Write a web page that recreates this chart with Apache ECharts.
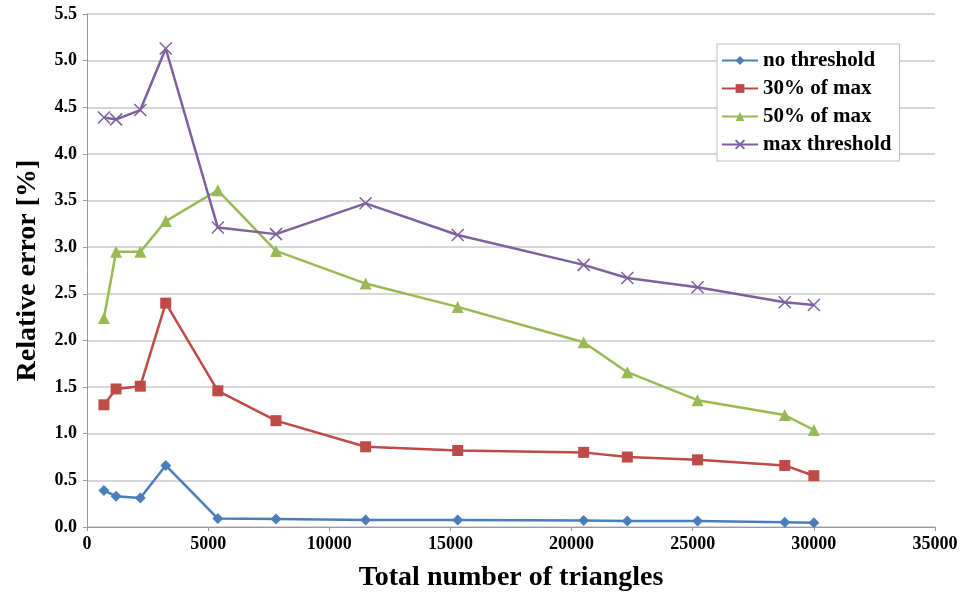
<!DOCTYPE html>
<html>
<head>
<meta charset="utf-8" />
<title>Relative error</title>
<style type="text/css">
	html, body { margin: 0; padding: 0; background: #fff; }
	#chart { width: 960px; height: 592px; }
</style>
<script src="https://cdn.jsdelivr.net/npm/echarts@6/dist/echarts.min.js"></script>
</head>
<body>
<div id="chart"></div>
<script type="text/javascript">
	// number of triangles (x)
	var triangles = [700, 1200, 2200, 3250, 5400, 7800, 11500, 15300, 20500, 22300, 25200, 28800, 30000];
	// relative error [%]
	var noThreshold = [0.39, 0.33, 0.31, 0.66, 0.09, 0.085, 0.075, 0.075, 0.07, 0.065, 0.065, 0.05, 0.045];
	var max30 = [1.31, 1.48, 1.51, 2.40, 1.46, 1.14, 0.86, 0.82, 0.80, 0.75, 0.72, 0.66, 0.55];
	var max50 = [2.24, 2.95, 2.95, 3.28, 3.61, 2.96, 2.61, 2.36, 1.98, 1.66, 1.36, 1.20, 1.04];
	var maxThreshold = [4.39, 4.37, 4.47, 5.13, 3.21, 3.14, 3.47, 3.13, 2.81, 2.67, 2.57, 2.41, 2.38];
	var seriesNames = ['no threshold', '30% of max', '50% of max', 'max threshold'];

	function pairs(ys){
		return triangles.map(function(x, i){ return [x, ys[i]]; });
	}

	var font = '"Liberation Serif", "Times New Roman", serif';
	var crossIcon = 'path://M0,0L10,10M10,0L0,10';

	function line(name, ys, color, symbol, size, extra){
		var s = {
			name: name,
			type: 'line',
			data: pairs(ys),
			symbol: symbol,
			symbolSize: size,
			lineStyle: { color: color, width: 2.5 },
			itemStyle: { color: color },
			emphasis: { disabled: true },
			z: 3
		};
		if (extra) s.itemStyle = extra;
		return s;
	}

	var chart = echarts.init(document.getElementById('chart'));
	chart.setOption({
		animation: false,
		color: ['#4a7ebb', '#be4b48', '#98b954', '#7d60a0'],
		grid: { left: 87, right: 25, top: 14, bottom: 65, outerBoundsMode: 'none' },
		legend: {
			data: seriesNames,
			orient: 'vertical',
			left: 717,
			top: 44,
			padding: [6, 8, 6, 4],
			itemGap: 7,
			itemWidth: 36,
			itemHeight: 11,
			borderColor: '#bdbdbd',
			borderWidth: 1,
			backgroundColor: '#fff',
			textStyle: { fontFamily: font, fontWeight: 'bold', fontSize: 21, color: '#000' }
		},
		xAxis: {
			type: 'value',
			min: 0,
			max: 35000,
			interval: 5000,
			name: 'Total number of triangles',
			nameLocation: 'middle',
			nameGap: 37,
			nameTextStyle: { fontFamily: font, fontWeight: 'bold', fontSize: 28, color: '#000' },
			axisLine: { lineStyle: { color: '#9a9a9a' } },
			axisTick: { show: true, length: 4, lineStyle: { color: '#9a9a9a' } },
			splitLine: { show: false },
			axisLabel: {
				fontFamily: font, fontWeight: 'bold', fontSize: 18, color: '#000', margin: 8,
				formatter: function(v){ return String(v); }
			}
		},
		yAxis: {
			type: 'value',
			min: 0,
			max: 5.5,
			interval: 0.5,
			name: 'Relative error [%]',
			nameLocation: 'middle',
			nameGap: 45,
			nameTextStyle: { fontFamily: font, fontWeight: 'bold', fontSize: 28, color: '#000' },
			axisLine: { show: true, lineStyle: { color: '#9a9a9a' } },
			axisTick: { show: true, length: 4, lineStyle: { color: '#9a9a9a' } },
			splitLine: { lineStyle: { color: '#c8c8c8', width: 1.5 } },
			axisLabel: {
				fontFamily: font, fontWeight: 'bold', fontSize: 18, color: '#000', margin: 10,
				formatter: function(v){ return v.toFixed(1); }
			}
		},
		series: [
			line(seriesNames[0], noThreshold, '#4a7ebb', 'diamond', 11),
			line(seriesNames[1], max30, '#be4b48', 'rect', 11),
			line(seriesNames[2], max50, '#98b954', 'triangle', 12),
			line(seriesNames[3], maxThreshold, '#7d60a0', crossIcon, 12,
				{ color: 'none', borderColor: '#7d60a0', borderWidth: 1.5 })
		]
	});
</script>
</body>
</html>
